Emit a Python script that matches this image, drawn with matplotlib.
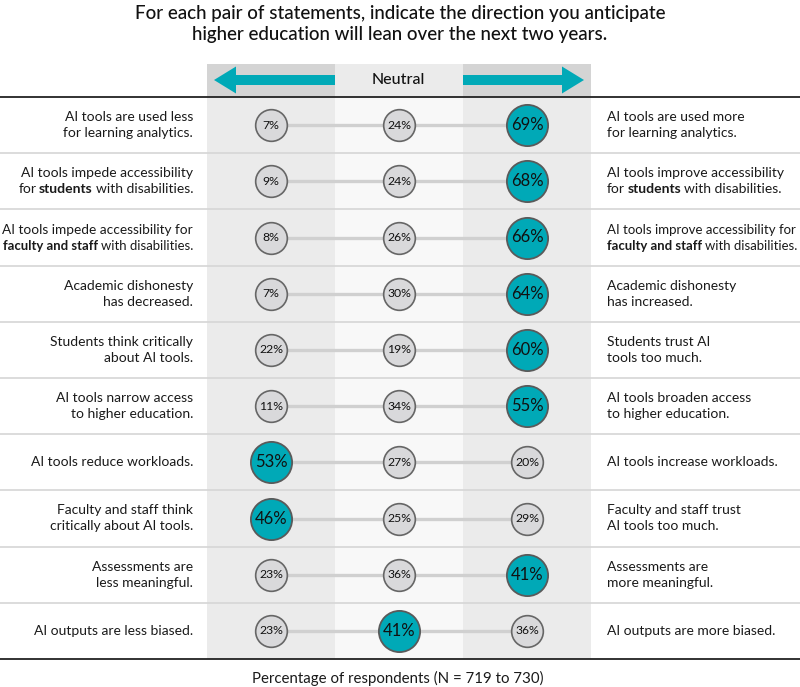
import matplotlib.pyplot as plt

left_labels = [
    [[("AI tools are used less", "normal")], [("for learning analytics.", "normal")]],
    [[("AI tools impede accessibility", "normal")], [("for ", "normal"), ("students", "bold"), (" with disabilities.", "normal")]],
    [[("AI tools impede accessibility for", "normal")], [("faculty and staff", "bold"), (" with disabilities.", "normal")]],
    [[("Academic dishonesty", "normal")], [("has decreased.", "normal")]],
    [[("Students think critically", "normal")], [("about AI tools.", "normal")]],
    [[("AI tools narrow access", "normal")], [("to higher education.", "normal")]],
    [[("AI tools reduce workloads.", "normal")]],
    [[("Faculty and staff think", "normal")], [("critically about AI tools.", "normal")]],
    [[("Assessments are", "normal")], [("less meaningful.", "normal")]],
    [[("AI outputs are less biased.", "normal")]],
]
right_labels = [
    [[("AI tools are used more", "normal")], [("for learning analytics.", "normal")]],
    [[("AI tools improve accessibility", "normal")], [("for ", "normal"), ("students", "bold"), (" with disabilities.", "normal")]],
    [[("AI tools improve accessibility for", "normal")], [("faculty and staff", "bold"), (" with disabilities.", "normal")]],
    [[("Academic dishonesty", "normal")], [("has increased.", "normal")]],
    [[("Students trust AI", "normal")], [("tools too much.", "normal")]],
    [[("AI tools broaden access", "normal")], [("to higher education.", "normal")]],
    [[("AI tools increase workloads.", "normal")]],
    [[("Faculty and staff trust", "normal")], [("AI tools too much.", "normal")]],
    [[("Assessments are", "normal")], [("more meaningful.", "normal")]],
    [[("AI outputs are more biased.", "normal")]],
]
left_vals = [7, 9, 8, 7, 22, 11, 53, 46, 23, 23]
neutral_vals = [24, 24, 26, 30, 19, 34, 27, 25, 36, 41]
right_vals = [69, 68, 66, 64, 60, 55, 20, 29, 41, 36]

title = "For each pair of statements, indicate the direction you anticipate\nhigher education will lean over the next two years."
footer = "Percentage of respondents (N = 719 to 730)"

teal = "#00a9b7"
plt.rcParams['font.family'] = ['Lato', 'DejaVu Sans']

fig = plt.figure(figsize=(8, 6.87), dpi=100)
ax = fig.add_axes([0, 0, 1, 1])
ax.set_xlim(0, 800)
ax.set_ylim(687, 0)
ax.axis('off')

top, bottom = 97, 659
row_h = (bottom - top) / len(left_vals)
cols = [(207, 335), (335, 463), (463, 591)]
col_x = [(a + b) / 2 for a, b in cols]

# column backgrounds
for i, (a, b) in enumerate(cols):
    body = "#f8f8f8" if i == 1 else "#ebebeb"
    head = "#ebebeb" if i == 1 else "#d4d4d4"
    ax.fill_between([a, b], 64, top, color=head, lw=0, zorder=0)
    ax.fill_between([a, b], top, bottom, color=body, lw=0, zorder=0)

# header arrows
ax.arrow(335, 80, -121, 0, width=10, head_width=27, head_length=22,
         length_includes_head=True, color=teal, lw=0, zorder=2)
ax.arrow(463, 80, 121, 0, width=10, head_width=27, head_length=22,
         length_includes_head=True, color=teal, lw=0, zorder=2)
ax.text(398, 80, "Neutral", ha='center', va='center', fontsize=11.5,
        fontweight='medium', color='#111111')

# row separators
for i in range(1, len(left_vals)):
    ax.plot([0, 800], [top + i * row_h] * 2, color='#d6d6d6', lw=1.2, zorder=1)
ax.plot([0, 800], [top, top], color='#222222', lw=1.3, zorder=3)
ax.plot([0, 800], [bottom, bottom], color='#222222', lw=1.3, zorder=3)

renderer = fig.canvas.get_renderer()


def text_width(s, weight, size):
    t = ax.text(0, 0, s, fontsize=size, fontweight=weight)
    w = t.get_window_extent(renderer).width
    t.remove()
    return w


def measure(parts, size):
    sp = 0.75 * (text_width("x x", 'normal', size) - text_width("xx", 'normal', size))
    widths = [text_width(s.strip(), wgt, size) for s, wgt in parts]
    gaps = []
    for k, (s, wgt) in enumerate(parts):
        g = sp if (k > 0 and (s.startswith(" ") or parts[k - 1][0].endswith(" "))) else 0
        gaps.append(g)
    return widths, gaps, sum(widths) + sum(gaps)


def draw_line(x, y, parts, ha, size=10, maxw=189):
    widths, gaps, total = measure(parts, size)
    if total > maxw:
        size = size * maxw / total
        widths, gaps, total = measure(parts, size)
    cx = x - total if ha == 'right' else x
    for k, (s, wgt) in enumerate(parts):
        cx += gaps[k]
        ax.text(cx, y, s.strip(), ha='left', va='center', fontsize=size,
                fontweight=wgt, color='#1a1a1a')
        cx += widths[k]


def draw_label(x, yc, lines, ha):
    n = len(lines)
    for j, parts in enumerate(lines):
        y = yc + (j - (n - 1) / 2) * 16
        draw_line(x, y, parts, ha)


for i in range(len(left_vals)):
    yc = top + (i + 0.5) * row_h
    vals = [left_vals[i], neutral_vals[i], right_vals[i]]
    ax.plot([col_x[0], col_x[2]], [yc, yc], color='#d0d0d0', lw=2.4, zorder=2)
    big = vals.index(max(vals))
    for k, v in enumerate(vals):
        if k == big:
            ax.scatter(col_x[k], yc, s=880, color=teal, edgecolor='#5a5a5a',
                       linewidth=1.3, zorder=4)
            ax.text(col_x[k], yc, f"{v}%", ha='center', va='center',
                    fontsize=12, color='#111111', zorder=5)
        else:
            ax.scatter(col_x[k], yc, s=520, color='#d9d9db', edgecolor='#666666',
                       linewidth=1.2, zorder=4)
            ax.text(col_x[k], yc, f"{v}%", ha='center', va='center',
                    fontsize=8.8, color='#111111', zorder=5)
    draw_label(193, yc, left_labels[i], 'right')
    draw_label(607, yc, right_labels[i], 'left')

ax.text(400, 24, title, ha='center', va='center', fontsize=13.5,
        fontweight='medium', color='#111111', linespacing=1.25)
ax.text(398, 678, footer, ha='center', va='center', fontsize=10.8,
        color='#1a1a1a')

fig.savefig("out.png", dpi=100)
